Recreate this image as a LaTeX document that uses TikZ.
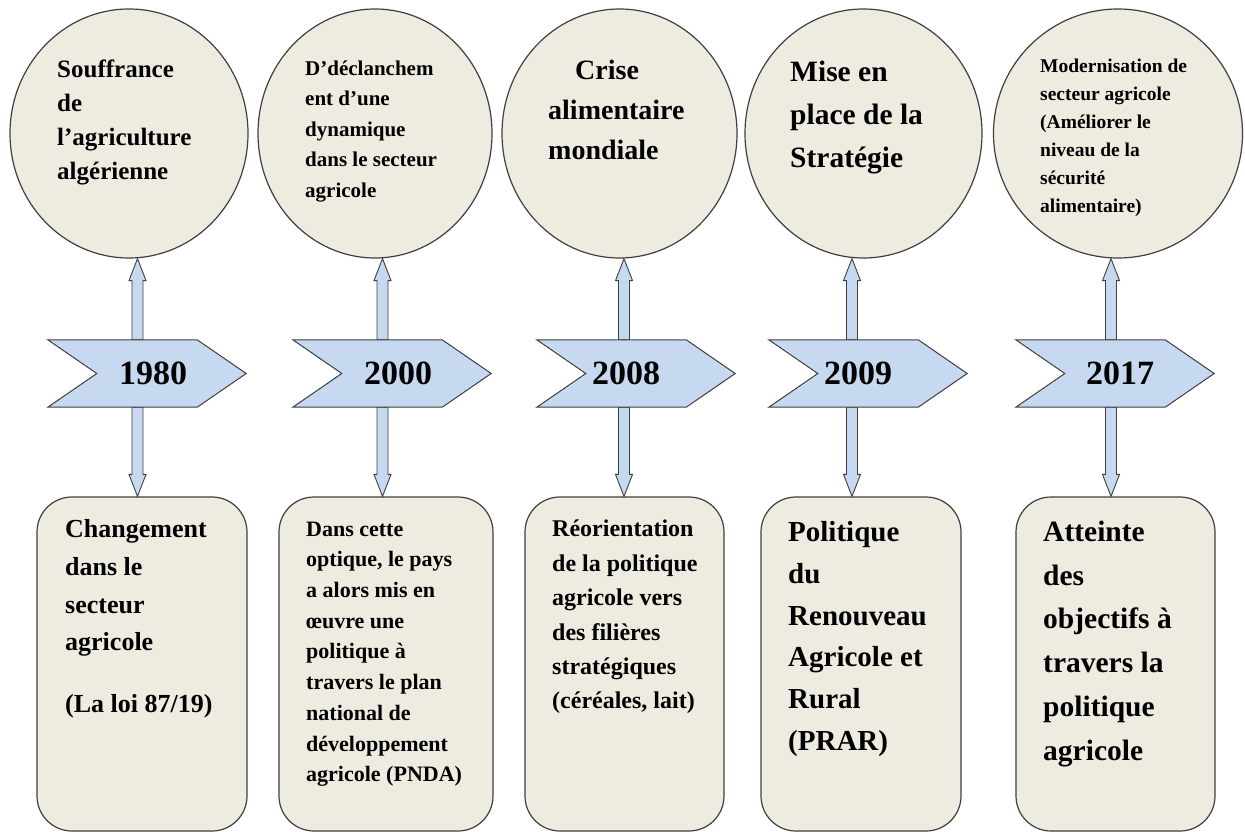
\documentclass[tikz,border=0pt]{standalone}
\usepackage{fontspec}
\setmainfont{Liberation Serif}
\usetikzlibrary{shapes.geometric,calc}
\pgfdeclarelayer{back}
\pgfdeclarelayer{mid}
\pgfsetlayers{back,mid,main}
\definecolor{tan}{HTML}{EEECE1}
\definecolor{lblue}{HTML}{C6D9F1}
\definecolor{edge}{HTML}{3F3F3F}
\newcommand\fsz[2]{\bfseries\fontsize{#1}{#2}\selectfont}
\newcommand\fatarrow[2]{%
  \draw[fatarr] let \p1=#1, \p2=#2, \n1={sign(\y2-\y1)} in
    (\x1-5.5pt,\y1) -- (\x1-5.5pt,\y2-\n1*22pt) -- (\x1-8.5pt,\y2-\n1*22pt)
    -- (\x1,\y2) -- (\x1+8.5pt,\y2-\n1*22pt) -- (\x1+5.5pt,\y2-\n1*22pt)
    -- (\x1+5.5pt,\y1) -- cycle;}
\tikzset{
  bubble/.style={ellipse, draw=edge, fill=tan, line width=1.2pt, inner sep=0pt},
  card/.style={rectangle, rounded corners=35pt, draw=edge, fill=tan, line width=1.2pt,
    inner sep=0pt, minimum height=334pt},
  yearslot/.style={rectangle, inner sep=0pt, minimum width=198pt, minimum height=67pt,
    font=\fsz{34}{40}},
  chev/.style={draw=edge, fill=lblue, line width=1pt, line join=miter},
  fatarr/.style={draw=edge, fill=lblue, line width=0.9pt, line join=miter},
  txt/.style={anchor=north west, align=left, inner sep=0pt,
    execute at begin node={\rule{0pt}{0.75em}}}
}
\begin{document}
\begin{tikzpicture}[x=1pt,y=-1pt]
\useasboundingbox (0,0) rectangle (1245,832);
\begin{pgfonlayer}{back}
\fill[white] (0,0) rectangle (1245,832);
\end{pgfonlayer}

% year labels (chevron frames are drawn below them)
\node[yearslot] (y1) at (147,373.5) {\hspace*{12pt}1980};
\node[yearslot] (y2) at (392,373.5) {\hspace*{12pt}2000};
\node[yearslot] (y3) at (636,373.5) {2008\hspace*{20pt}};
\node[yearslot] (y4) at (868,373.5) {2009\hspace*{20pt}};
\node[yearslot] (y5) at (1115,373.5) {\hspace*{10pt}2017};

\begin{pgfonlayer}{back}
% circles
\node[bubble, minimum width=238pt, minimum height=249pt] (c1) at (129,133.5) {};
\node[bubble, minimum width=234pt, minimum height=249pt] (c2) at (375,133.5) {};
\node[bubble, minimum width=235pt, minimum height=249pt] (c3) at (619.5,133.5) {};
\node[bubble, minimum width=237pt, minimum height=249pt] (c4) at (863.5,133.5) {};
\node[bubble, minimum width=249pt, minimum height=249pt] (c5) at (1118,133.5) {};
% boxes
\node[card, minimum width=210pt] (b1) at (142,664) {};
\node[card, minimum width=214pt] (b2) at (386,664) {};
\node[card, minimum width=199pt] (b3) at (624.5,664) {};
\node[card, minimum width=200pt] (b4) at (861,664) {};
\node[card, minimum width=199pt] (b5) at (1115.5,664) {};
\end{pgfonlayer}

\begin{pgfonlayer}{mid}
% arrows
\fatarrow{($(y1.north)+(-9.5,0)$)}{($(c1.south)+(8.5,0)$)}
\fatarrow{($(y2.north)+(-9.5,0)$)}{($(c2.south)+(7.5,0)$)}
\fatarrow{($(y3.north)+(-12,0)$)}{($(c3.south)+(4.5,0)$)}
\fatarrow{($(y4.north)+(-16,0)$)}{($(c4.south)+(-11.5,0)$)}
\fatarrow{($(y5.north)+(-4,0)$)}{($(c5.south)+(-7,0)$)}
\fatarrow{($(y1.south)+(-9.5,0)$)}{($(b1.north)+(-4.5,0)$)}
\fatarrow{($(y2.south)+(-9.5,0)$)}{($(b2.north)+(-3.5,0)$)}
\fatarrow{($(y3.south)+(-12,0)$)}{($(b3.north)+(-0.5,0)$)}
\fatarrow{($(y4.south)+(-16,0)$)}{($(b4.north)+(-9,0)$)}
\fatarrow{($(y5.south)+(-4,0)$)}{($(b5.north)+(-4.5,0)$)}
% chevrons
\foreach \i in {1,...,5}{
  \draw[chev] (y\i.north west) -- ($(y\i.north east)+(-49,0)$) -- (y\i.east)
    -- ($(y\i.south east)+(-49,0)$) -- (y\i.south west) -- ($(y\i.west)+(49,0)$) -- cycle;
}
\end{pgfonlayer}

% circle texts
\node[txt, font=\fsz{25}{34}] (tc1) at (57,59.25)
  {Souffrance\\de\\l’agriculture\\algérienne};
\node[txt, font=\fsz{21}{30.5}] (tc2) at (305,60.25)
  {D’déclanchem\\ent d’une\\dynamique\\dans le secteur\\agricole};
\node[txt, font=\fsz{28}{40}] (tc3) at (548,60)
  {\hspace*{27pt}Crise\\alimentaire\\mondiale};
\node[txt, font=\fsz{29.5}{43}] (tc4) at (790,61)
  {Mise en\\place de la\\Stratégie};
\node[txt, font=\fsz{19.5}{28}] (tc5) at (1040,58.4)
  {Modernisation de\\secteur agricole\\(Améliorer le\\niveau de la\\sécurité\\alimentaire)};

% box texts
\node[txt, font=\fsz{26}{37.7}] (tb1) at (65,519.5)
  {Changement\\dans le\\secteur\\agricole\\[24pt](La loi 87/19)};
\node[txt, font=\fsz{22}{30.7}] (tb2) at (306,521.5)
  {Dans cette\\optique, le pays\\a alors mis en\\œuvre une\\politique à\\travers le plan\\national de\\développement\\agricole (PNDA)};
\node[txt, font=\fsz{24}{34.4}] (tb3) at (552,520)
  {Réorientation\\de la politique\\agricole vers\\des filières\\stratégiques\\(céréales, lait)};
\node[txt, font=\fsz{29}{41.7}] (tb4) at (788,521.3)
  {Politique\\du\\Renouveau\\Agricole et\\Rural\\(PRAR)};
\node[txt, font=\fsz{29.5}{43.7}] (tb5) at (1043,520.9)
  {Atteinte\\des\\objectifs à\\travers la\\politique\\agricole};
\end{tikzpicture}
\end{document}
